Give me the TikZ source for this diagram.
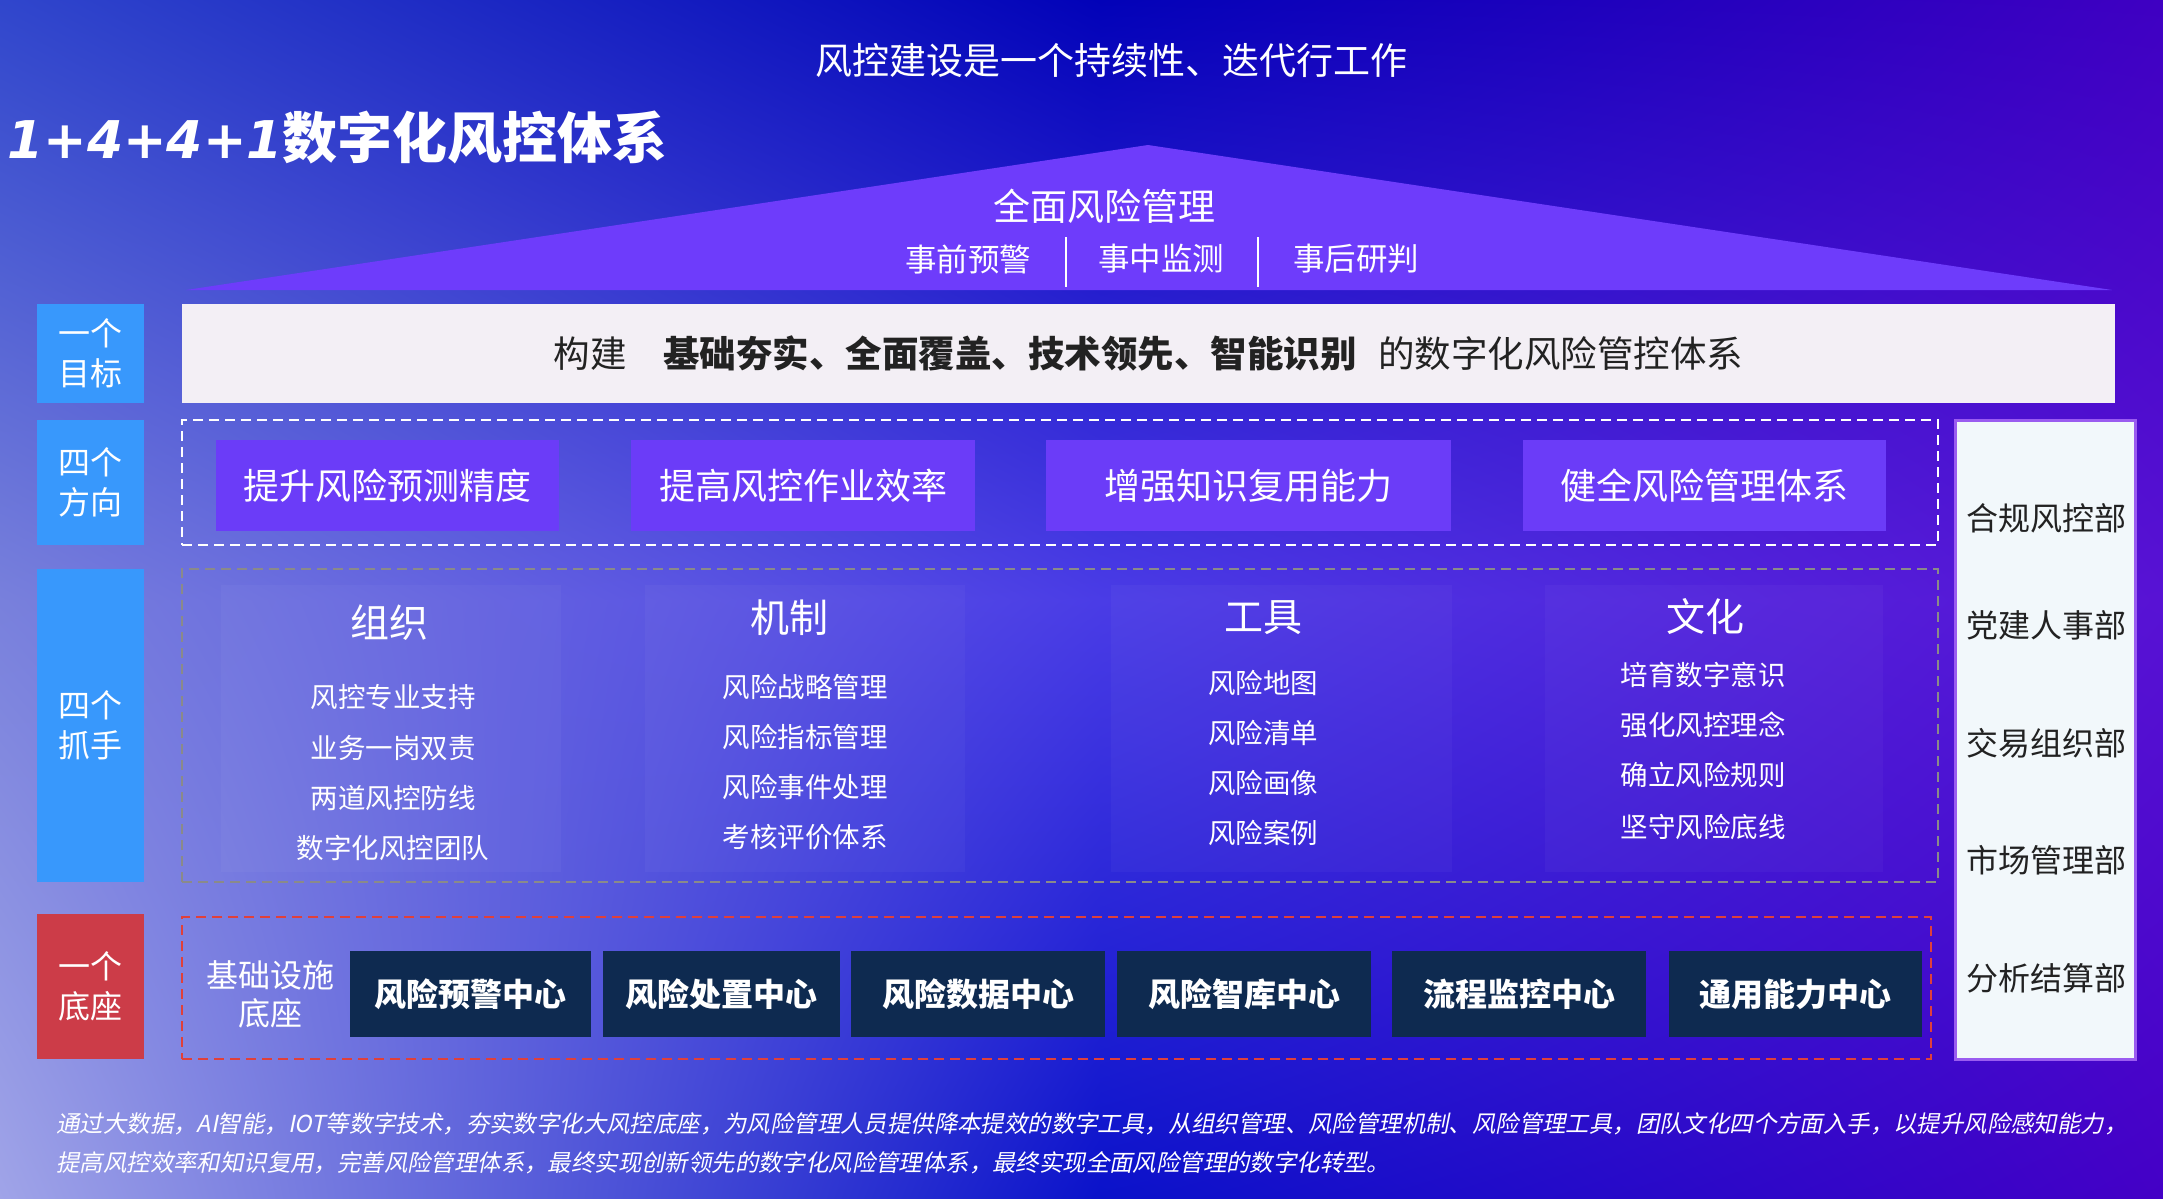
\documentclass[tikz,border=0pt]{standalone}
\usepackage{fontspec}
\usetikzlibrary{shadings}
\setmainfont{Noto Sans CJK SC}
\newfontfamily\slantcjk{Noto Sans CJK SC}[FakeSlant=0.2]
\newfontfamily\numfont{DejaVu Sans}
\definecolor{bgTL}{HTML}{3046CC}
\definecolor{bgTC}{HTML}{0202B8}
\definecolor{bgTR}{HTML}{3F00C2}
\definecolor{bgML}{HTML}{7880DC}
\definecolor{bgMC}{HTML}{4A3CE6}
\definecolor{bgMR}{HTML}{5812D4}
\definecolor{bgBL}{HTML}{A0A4E8}
\definecolor{bgBC}{HTML}{0A12CA}
\definecolor{bgBR}{HTML}{4400C6}
\definecolor{roofc}{HTML}{6E3CFB}
\definecolor{dirc}{HTML}{6B3CF8}
\definecolor{lblue}{HTML}{3898FC}
\definecolor{lred}{HTML}{CC3C48}
\definecolor{navy}{HTML}{0E2A50}
\definecolor{goalc}{HTML}{F3EFF5}
\definecolor{deptc}{HTML}{F2F8FB}
\definecolor{deptb}{HTML}{9A5CF0}
\definecolor{greyd}{HTML}{8A8A8A}
\definecolor{redd}{HTML}{E0403A}
\definecolor{darktxt}{HTML}{222222}
\newcommand\fsz[2]{\fontsize{#1pt}{#2pt}\selectfont}
\begin{document}
\begin{tikzpicture}[x=0.5pt,y=-0.5pt,
  lbl/.style={fill=lblue,text=white,align=center,inner sep=0pt,font=\fsz{16}{20},minimum width=53.5pt},
  dirbox/.style={fill=dirc,text=white,inner sep=0pt,font=\fsz{18}{22},minimum height=45.5pt},
  navybox/.style={fill=navy,text=white,inner sep=0pt,font=\bfseries\fsz{16}{20},minimum height=43pt},
  dashbox/.style={line width=1.2pt,dash pattern=on 5pt off 3pt,inner sep=0pt},
  colhead/.style={text=white,font=\fsz{19.5}{24},inner sep=0pt},
  colitem/.style={text=white,font=\fsz{13.75}{16},inner sep=0pt},
  dept/.style={text=darktxt,font=\fsz{16}{20},inner sep=0pt},
  faint/.style={fill=white,fill opacity=0.03,draw=none}
]
\useasboundingbox (0,0) rectangle (2163,1199);
% background
\shade[upper left=bgTL, upper right=bgTC, lower left=bgML, lower right=bgMC] (0,0) rectangle (1101,601);
\shade[upper left=bgTC, upper right=bgTR, lower left=bgMC, lower right=bgMR] (1100,0) rectangle (2163,601);
\shade[upper left=bgML, upper right=bgMC, lower left=bgBL, lower right=bgBC] (0,600) rectangle (1101,1199);
\shade[upper left=bgMC, upper right=bgMR, lower left=bgBC, lower right=bgBR] (1100,600) rectangle (2163,1199);

% titles
\node[text=white,font=\fsz{18.5}{22},inner sep=0pt] (toptitle) at (1111,60) {风控建设是一个持续性、迭代行工作};
\node[text=white,anchor=west,inner sep=0pt] (maintitle) at (7,137)
  {{\numfont\bfseries\itshape\fsz{26}{30}1+4+4+1}{\bfseries\fsz{27.5}{32}数字化风控体系}};

% roof
\fill[roofc] (186,290) -- (1148,145) -- (2112,290) -- cycle;
\node[text=white,font=\fsz{18.5}{22},inner sep=0pt] (rooftitle) at (1104,206) {全面风险管理};
\node[text=white,font=\fsz{15.75}{19},inner sep=0pt] (pre) at (968,259) {事前预警};
\node[text=white,font=\fsz{15.75}{19},inner sep=0pt] (mid) at (1161,259) {事中监测};
\node[text=white,font=\fsz{15.75}{19},inner sep=0pt] (post) at (1356,259) {事后研判};
\coordinate (s1a) at (1066,237); \coordinate (s1b) at (1066,287);
\coordinate (s2a) at (1258,237); \coordinate (s2b) at (1258,287);
\draw[white,line width=1pt] (s1a) -- (s1b);
\draw[white,line width=1pt] (s2a) -- (s2b);

% left labels
\node[lbl,minimum height=49.5pt] (lgoal) at (90.5,353.5) {一个\\目标};
\node[lbl,minimum height=62.5pt] (ldir) at (90.5,482.5) {四个\\方向};
\node[lbl,minimum height=156.5pt] (lgrip) at (90.5,725.5) {四个\\抓手};
\node[lbl,fill=lred,minimum height=72.5pt] (lbase) at (90.5,986.5) {一个\\底座};

% goal box
\node[fill=goalc,text=darktxt,inner sep=0pt,minimum width=966.5pt,minimum height=49.5pt,font=\fsz{18.25}{22}] (goal) at (1148.5,353.5)
  {构建\hspace{1em}{\bfseries 基础夯实、全面覆盖、技术领先、智能识别}\hspace{0.6em}的数字化风险管控体系};

% directions
\node[dashbox,draw=white,minimum width=878pt,minimum height=62.5pt] (dirframe) at (1060,482.5) {};
\node[dirbox,minimum width=171.5pt] (d1) at (387.5,485.5) {提升风险预测精度};
\node[dirbox,minimum width=172pt] (d2) at (803,485.5) {提高风控作业效率};
\node[dirbox,minimum width=202.5pt] (d3) at (1248.5,485.5) {增强知识复用能力};
\node[dirbox,minimum width=181.5pt] (d4) at (1704.5,485.5) {健全风险管理体系};

% four grips
\node[dashbox,draw=greyd,minimum width=878pt,minimum height=156.5pt] (gripframe) at (1060,725.5) {};
\fill[faint] (221,585) rectangle (561,872);
\fill[faint] (645,585) rectangle (965,872);
\fill[faint] (1111,585) rectangle (1452,872);
\fill[faint] (1545,585) rectangle (1883,872);
\node[colhead] (h1) at (389,623) {组织};
\node[colitem] (h1a) at (393,697) {风控专业支持};
\node[colitem] (h1b) at (393,748) {业务一岗双责};
\node[colitem] (h1c) at (393,798) {两道风控防线};
\node[colitem] (h1d) at (393,848) {数字化风控团队};
\node[colhead] (h2) at (789,618) {机制};
\node[colitem] (h2a) at (805,687) {风险战略管理};
\node[colitem] (h2b) at (805,737) {风险指标管理};
\node[colitem] (h2c) at (805,787) {风险事件处理};
\node[colitem] (h2d) at (805,837) {考核评价体系};
\node[colhead] (h3) at (1263,618) {工具};
\node[colitem] (h3a) at (1263,683) {风险地图};
\node[colitem] (h3b) at (1263,733) {风险清单};
\node[colitem] (h3c) at (1263,783) {风险画像};
\node[colitem] (h3d) at (1263,833) {风险案例};
\node[colhead] (h4) at (1705,617) {文化};
\node[colitem] (h4a) at (1703,675) {培育数字意识};
\node[colitem] (h4b) at (1703,725) {强化风控理念};
\node[colitem] (h4c) at (1703,775) {确立风险规则};
\node[colitem] (h4d) at (1703,827) {坚守风险底线};

% departments
\node[fill=deptc,draw=deptb,line width=1.5pt,inner sep=0pt,minimum width=90pt,minimum height=319.5pt] (deptbox) at (2045,739.5) {};
\node[dept] (dp1) at (2046,518) {合规风控部};
\node[dept] (dp2) at (2046,625) {党建人事部};
\node[dept] (dp3) at (2046,743) {交易组织部};
\node[dept] (dp4) at (2046,860) {市场管理部};
\node[dept] (dp5) at (2046,978) {分析结算部};

% base
\node[dashbox,draw=redd,minimum width=874.5pt,minimum height=71pt] (baseframe) at (1056.5,988) {};
\node[text=white,align=center,inner sep=0pt,font=\fsz{16}{19}] (basetxt) at (270,994) {基础设施\\底座};
\node[navybox,minimum width=120.5pt] (c1) at (470.5,994) {风险预警中心};
\node[navybox,minimum width=118.5pt] (c2) at (721.5,994) {风险处置中心};
\node[navybox,minimum width=127pt] (c3) at (978,994) {风险数据中心};
\node[navybox,minimum width=127pt] (c4) at (1244,994) {风险智库中心};
\node[navybox,minimum width=127pt] (c5) at (1519,994) {流程监控中心};
\node[navybox,minimum width=126.5pt] (c6) at (1795.5,994) {通用能力中心};

% footer
\node[text=white,anchor=west,inner sep=0pt,font=\slantcjk\fsz{11.7}{14}] (foot1) at (56,1124)
  {通过大数据，AI智能，IOT等数字技术，夯实数字化大风控底座，为风险管理人员提供降本提效的数字工具，从组织管理、风险管理机制、风险管理工具，团队文化四个方面入手，以提升风险感知能力，};
\node[text=white,anchor=west,inner sep=0pt,font=\slantcjk\fsz{11.7}{14}] (foot2) at (56,1163)
  {提高风控效率和知识复用，完善风险管理体系，最终实现创新领先的数字化风险管理体系，最终实现全面风险管理的数字化转型。};
\end{tikzpicture}
\end{document}
